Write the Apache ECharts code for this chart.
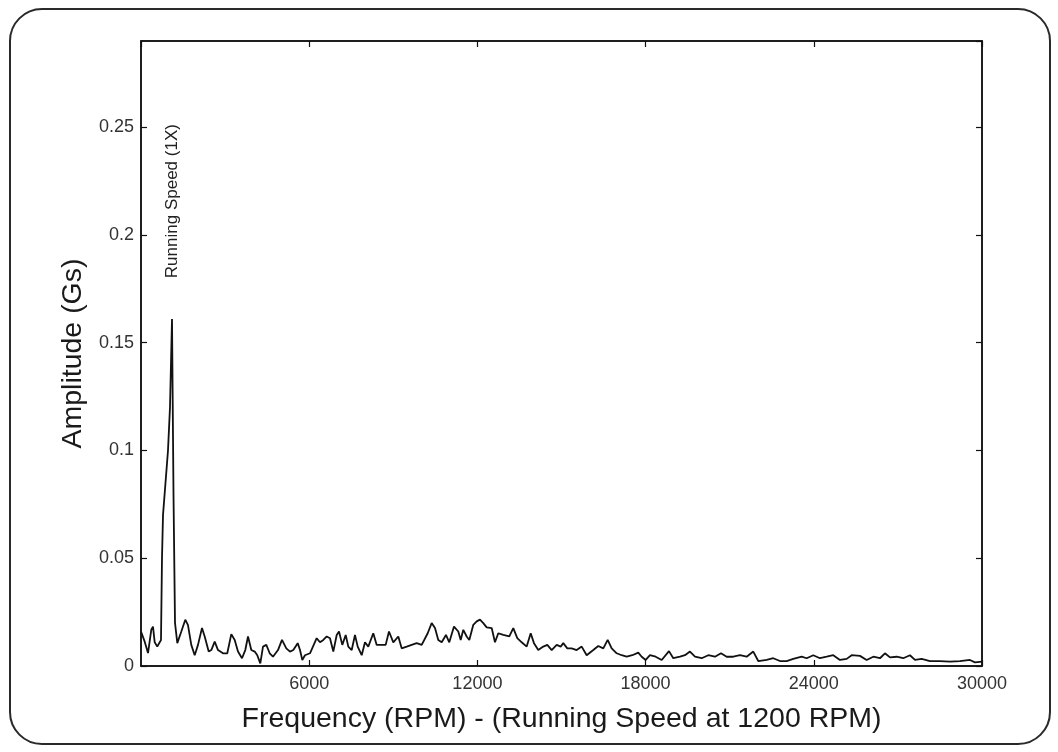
<!DOCTYPE html>
<html>
<head>
<meta charset="utf-8">
<script src="https://cdn.jsdelivr.net/npm/echarts@6/dist/echarts.min.js"></script>
<style>
  html, body { margin: 0; padding: 0; background: #fff; }
  #chart { width: 1058px; height: 752px; }
</style>
</head>
<body>
<div id="chart"></div>
<script>
// spectrum: frequency (RPM) and amplitude (Gs)
var freq = [0, 132, 250, 367, 428, 489, 581, 667, 713, 749, 785, 856, 963, 1034, 1106, 1159, 1213, 1295, 1438, 1580,
  1676, 1794, 1915, 2033, 2176, 2272, 2415, 2508, 2629, 2747, 2925, 3078, 3221, 3342, 3460, 3603, 3720, 3817, 3935, 4056,
  4148, 4256, 4352, 4470, 4591, 4708, 4887, 5029, 5183, 5315, 5433, 5590, 5672, 5754, 5850, 6028, 6267, 6385, 6503, 6624,
  6742, 6860, 6981, 7063, 7181, 7302, 7395, 7516, 7633, 7730, 7873, 7990, 8108, 8286, 8408, 8586, 8728, 8846, 9000, 9178,
  9299, 9478, 9656, 9834, 10013, 10227, 10369, 10487, 10605, 10726, 10879, 10997, 11165, 11318, 11404, 11497, 11618, 11711, 11854, 11975,
  12092, 12210, 12331, 12510, 12627, 12745, 12923, 13138, 13280, 13423, 13580, 13758, 13901, 14018, 14172, 14350, 14493, 14650, 14828, 14971,
  15064, 15207, 15363, 15542, 15720, 15898, 16134, 16312, 16491, 16647, 16790, 16968, 17147, 17325, 17525, 17739, 17860, 18003, 18156, 18359,
  18574, 18834, 18988, 19226, 19404, 19583, 19761, 20000, 20236, 20475, 20689, 20892, 21128, 21366, 21605, 21841, 22019, 22319, 22554, 22793,
  23032, 23267, 23567, 23745, 23981, 24220, 24459, 24695, 24933, 25173, 25351, 25647, 25886, 26122, 26360, 26538, 26717, 26956, 27191, 27430,
  27609, 27848, 28144, 28500, 28857, 29214, 29570, 29749, 30000];
var amp = [0.016, 0.0113, 0.006, 0.0168, 0.0183, 0.011, 0.009, 0.011, 0.012, 0.05, 0.07, 0.082, 0.1, 0.12, 0.161, 0.08, 0.02, 0.0106, 0.016, 0.0215,
  0.019, 0.0098, 0.005, 0.0098, 0.0176, 0.0137, 0.0067, 0.0074, 0.0113, 0.0074, 0.0059, 0.0059, 0.0148, 0.0121, 0.0067, 0.0036, 0.0074, 0.0137, 0.0074, 0.0067,
  0.005, 0.0012, 0.009, 0.0098, 0.0059, 0.0043, 0.0074, 0.0121, 0.0082, 0.0067, 0.0074, 0.0106, 0.0074, 0.0028, 0.005, 0.0059, 0.0129, 0.011, 0.0121, 0.0137,
  0.0129, 0.0067, 0.0144, 0.016, 0.0098, 0.0144, 0.009, 0.0074, 0.0144, 0.009, 0.005, 0.011, 0.009, 0.0152, 0.0098, 0.0098, 0.0098, 0.016, 0.011, 0.0137,
  0.0082, 0.009, 0.0098, 0.0106, 0.0098, 0.0152, 0.0199, 0.0176, 0.0121, 0.011, 0.0144, 0.011, 0.0183, 0.016, 0.0121, 0.0168, 0.0137, 0.0121, 0.0191, 0.0207,
  0.0215, 0.0199, 0.0179, 0.0176, 0.011, 0.0152, 0.0144, 0.0137, 0.0176, 0.0129, 0.011, 0.009, 0.0152, 0.0106, 0.0074, 0.009, 0.0098, 0.0074, 0.0098, 0.009,
  0.0106, 0.0082, 0.0082, 0.0074, 0.009, 0.005, 0.0074, 0.0093, 0.0082, 0.0121, 0.0082, 0.0059, 0.005, 0.0043, 0.005, 0.0062, 0.0043, 0.0028, 0.005, 0.0043,
  0.0028, 0.0069, 0.0036, 0.0043, 0.005, 0.0067, 0.0043, 0.0036, 0.005, 0.0043, 0.0059, 0.0043, 0.0043, 0.005, 0.0043, 0.0067, 0.0023, 0.0028, 0.0036, 0.0023,
  0.0023, 0.0033, 0.0043, 0.0036, 0.005, 0.0036, 0.0043, 0.005, 0.0028, 0.0033, 0.005, 0.0047, 0.0028, 0.0043, 0.0036, 0.0059, 0.004, 0.0043, 0.0036, 0.005,
  0.0028, 0.0033, 0.0023, 0.0023, 0.002, 0.0023, 0.0028, 0.0017, 0.002];

var xTitle = 'Frequency (RPM) - (Running Speed at 1200 RPM)';
var yTitle = 'Amplitude (Gs)';
var peakLabel = 'Running Speed (1X)';
var peakAt = [1100, 0.2157];

var points = [];
for (var i = 0; i < freq.length; i++) {
  points.push([freq[i], amp[i]]);
}

var font = 'Liberation Sans, Arial, sans-serif';
var myChart = echarts.init(document.getElementById('chart'));

function ticks() {
  return { show: true, inside: true, length: 6, lineStyle: { color: '#111', width: 1.2 } };
}

var option = {
  animation: false,
  backgroundColor: '#fff',
  graphic: [{
    type: 'rect',
    shape: { x: 10, y: 9, width: 1040, height: 735, r: 32 },
    style: { fill: 'none', stroke: '#2a2a2a', lineWidth: 2 },
    z: -1
  }],
  grid: { left: 141, right: 76, top: 41, bottom: 86, show: true, borderColor: '#111', borderWidth: 1.5 },
  xAxis: [{
    type: 'value',
    position: 'bottom',
    min: 0,
    max: 30000,
    interval: 6000,
    name: xTitle,
    nameLocation: 'middle',
    nameGap: 39,
    nameTextStyle: { fontFamily: font, fontSize: 28.5, color: '#1a1a1a' },
    axisLine: { show: true, onZero: false, lineStyle: { color: '#111', width: 1.5 } },
    axisTick: ticks(),
    axisLabel: {
      showMinLabel: false, fontFamily: font, fontSize: 18, color: '#333', margin: 9,
      formatter: function (v) { return String(v); }
    },
    splitLine: { show: false }
  }, {
    type: 'value',
    position: 'top',
    min: 0,
    max: 30000,
    interval: 6000,
    axisLine: { show: true, onZero: false, lineStyle: { color: '#111', width: 1.5 } },
    axisTick: ticks(),
    axisLabel: { show: false },
    splitLine: { show: false }
  }],
  yAxis: [{
    type: 'value',
    position: 'left',
    min: 0,
    max: 0.29,
    interval: 0.05,
    name: yTitle,
    nameLocation: 'middle',
    nameGap: 33,
    nameTextStyle: { fontFamily: font, fontSize: 28.5, color: '#1a1a1a' },
    axisLine: { show: true, onZero: false, lineStyle: { color: '#111', width: 1.5 } },
    axisTick: ticks(),
    axisLabel: { showMaxLabel: false, fontFamily: font, fontSize: 18, color: '#333', margin: 7 },
    splitLine: { show: false }
  }, {
    type: 'value',
    position: 'right',
    min: 0,
    max: 0.29,
    interval: 0.05,
    axisLine: { show: true, onZero: false, lineStyle: { color: '#111', width: 1.5 } },
    axisTick: ticks(),
    axisLabel: { show: false },
    splitLine: { show: false }
  }],
  series: [{
    type: 'line',
    data: points,
    showSymbol: false,
    symbol: 'none',
    lineStyle: { color: '#111', width: 1.8 },
    markPoint: {
      symbol: 'circle',
      symbolSize: 0,
      data: [{
        coord: peakAt,
        label: {
          show: true,
          formatter: peakLabel,
          rotate: 90,
          position: 'inside',
          fontFamily: font,
          fontSize: 17,
          color: '#222'
        }
      }]
    }
  }]
};

myChart.setOption(option, true);
</script>
</body>
</html>
